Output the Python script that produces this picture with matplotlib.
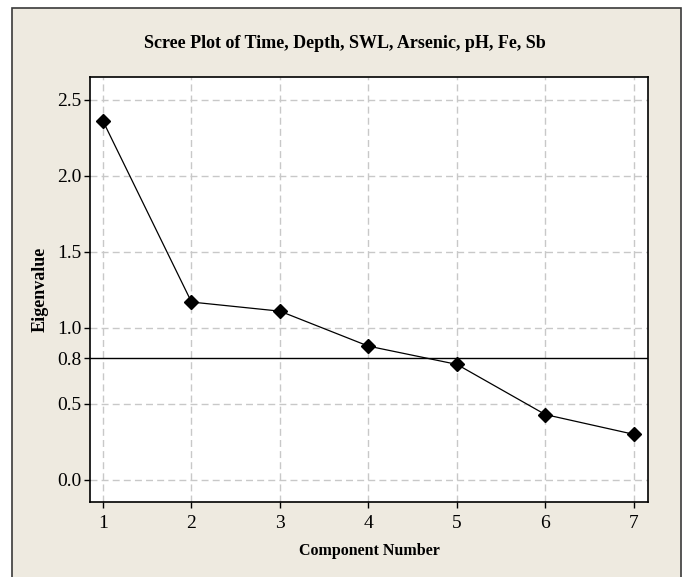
import matplotlib
matplotlib.use("Agg")
import matplotlib.pyplot as plt
from matplotlib.patches import Rectangle

# scree plot values
components = [1, 2, 3, 4, 5, 6, 7]
eigenvalues = [2.36, 1.17, 1.11, 0.88, 0.76, 0.43, 0.30]
ref_level = 0.8
y_ticks = [0.0, 0.5, 0.8, 1.0, 1.5, 2.0, 2.5]
y_ticklabels = ["0.0", "0.5", "0.8", "1.0", "1.5", "2.0", "2.5"]
grid_y = [0.0, 0.5, 1.0, 1.5, 2.0, 2.5]

plt.rcParams["font.family"] = ["Liberation Serif", "DejaVu Serif"]

W, H = 683, 577
fig = plt.figure(figsize=(W / 100, H / 100), dpi=100)
fig.patch.set_facecolor("white")

# beige panel with dark border
fig.patches.append(Rectangle((12 / W, -0.01), (681 - 12) / W, (577 - 8) / H + 0.01,
                             transform=fig.transFigure, facecolor="#eeeae0",
                             edgecolor="#3a3a3a", lw=1.2, zorder=-5))

ax = fig.add_axes([90 / W, 1 - 502 / H, (648 - 90) / W, (502 - 77) / H])
ax.set_zorder(2)
ax.set_facecolor("white")

for gy in grid_y:
    ax.axhline(gy, color="#c8c8c8", lw=1.0, ls=(0, (5, 3)), zorder=1)
for gx in components:
    ax.axvline(gx, color="#c8c8c8", lw=1.0, ls=(0, (5, 3)), zorder=1)

ax.axhline(ref_level, color="black", lw=1.0, zorder=2)
ax.plot(components, eigenvalues, color="black", lw=0.9, marker="D",
        ms=7, mfc="black", mec="black", zorder=3)

ax.set_xlim(0.853, 7.16)
ax.set_ylim(-0.145, 2.65)
ax.set_xticks(components)
ax.set_yticks(y_ticks)
ax.set_yticklabels(y_ticklabels)
ax.tick_params(axis="both", direction="out", length=4, width=1, labelsize=14,
               pad=2)
ax.tick_params(axis="x", pad=5)
for s in ax.spines.values():
    s.set_linewidth(1.2)

ax.set_xlabel("Component Number", fontsize=11.5, fontweight="bold", labelpad=8)
ax.set_ylabel("Eigenvalue", fontsize=13, fontweight="bold", labelpad=6)
fig.text(345 / W, 1 - 44 / H,
         "Scree Plot of Time, Depth, SWL, Arsenic, pH, Fe, Sb",
         ha="center", va="center", fontsize=13, fontweight="bold", zorder=3)

fig.savefig("out.png", dpi=100)
